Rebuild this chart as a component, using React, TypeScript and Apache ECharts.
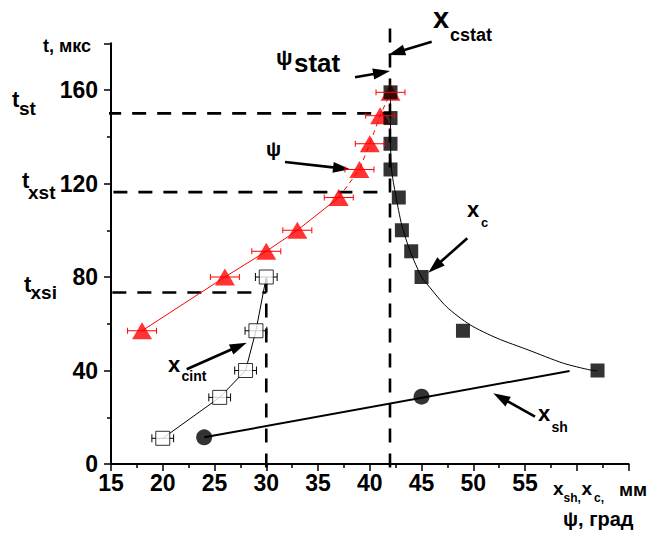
import React, { useEffect, useRef } from "react";
import * as echarts from "echarts";

// ---- data ----
const psiPts = [[18, 57], [26, 80], [30, 91], [33, 100], [37, 114], [39, 126], [40, 137], [41, 149], [42, 159]];
const psiErr = 1.4;
const xcPts = [[42, 159], [42, 148], [42, 137], [42, 126], [42.8, 114], [43.1, 100], [44, 91], [45, 80], [49, 57], [62, 40]];
const xcFit = [[42, 160], [42, 140], [42.1, 126], [42.5, 115], [43.1, 102], [43.9, 91], [45, 80], [45.6, 76.6], [47.4, 67.3], [49.7, 59.5], [52.3, 53.8], [55.3, 48.8], [58.7, 43.1], [61.3, 40.2], [62, 39.8]];
const xcintPts = [[20, 11], [25.5, 28.5], [28, 40], [29, 57], [30, 80]];
const xcintErr = 1.05;
const xshPts = [[24, 11.4], [45, 28.8]];
const xshFit = [[24, 11.4], [59.3, 39.8]];
const tSt = 150;
const tXst = 116.3;
const tXsi = 73.4;
const xStat = 41.95;
const xInt = 30;
const xMin = 15, xMax = 65, xStep = 5;
const yMin = 0, yMax = 180, yStep = 40;

const FONT = "'Liberation Sans', Arial, sans-serif";

function errRender(color: string, cap: number) {
  return (params: any, api: any) => {
    const x = api.value(0), y = api.value(1), e = api.value(2);
    const p1 = api.coord([x - e, y]);
    const p2 = api.coord([x + e, y]);
    const st = { stroke: color, lineWidth: 1 };
    return {
      type: "group",
      children: [
        { type: "line", shape: { x1: p1[0], y1: p1[1], x2: p2[0], y2: p2[1] }, style: st },
        { type: "line", shape: { x1: p1[0], y1: p1[1] - cap, x2: p1[0], y2: p1[1] + cap }, style: st },
        { type: "line", shape: { x1: p2[0], y1: p2[1] - cap, x2: p2[0], y2: p2[1] + cap }, style: st },
      ],
    };
  };
}

function arrow(x1: number, y1: number, x2: number, y2: number, hl = 17, hw = 5.5, lw = 2.6) {
  const dx = x2 - x1, dy = y2 - y1;
  const L = Math.hypot(dx, dy);
  const ux = dx / L, uy = dy / L;
  const bx = x2 - ux * hl, by = y2 - uy * hl;
  return [
    { type: "line", shape: { x1, y1, x2: bx + ux * 2, y2: by + uy * 2 }, style: { stroke: "#000", lineWidth: lw } },
    {
      type: "polygon",
      shape: { points: [[x2, y2], [bx - uy * hw, by + ux * hw], [bx + uy * hw, by - ux * hw]] },
      style: { fill: "#000" },
    },
  ];
}

function txt(s: string, x: number, y: number, size: number, weight = "bold") {
  return {
    type: "text",
    x,
    y,
    style: { text: s, fontSize: size, fontWeight: weight, fontFamily: FONT, fill: "#000", align: "left", verticalAlign: "middle" },
  };
}

const dashStyle = { color: "#000", width: 2.6, type: [14, 11] as any };

function refLine(data: number[][]) {
  return {
    type: "line",
    data,
    symbol: "none",
    clip: false,
    silent: true,
    lineStyle: dashStyle,
    z: 1,
  };
}

export default function App() {
  const ref = useRef<HTMLDivElement>(null);
  useEffect(() => {
    if (!ref.current) return;
    const chart = echarts.init(ref.current, null, { renderer: "svg" });
    const axisCommon = {
      axisLine: { show: true, onZero: false, lineStyle: { color: "#000", width: 2 } },
      axisTick: { show: true, length: 7, lineStyle: { color: "#000", width: 1.5 } },
      minorTick: { show: true, splitNumber: 2, length: 4, lineStyle: { color: "#000", width: 1.5 } },
      splitLine: { show: false },
      minorSplitLine: { show: false },
    };
    const graphic: any[] = [
      txt("t, мкс", 43, 45.5, 18),
      txt("t", 12, 99, 22), txt("st", 19, 108.5, 19),
      txt("t", 22, 180.5, 22), txt("xst", 28, 192.5, 19),
      txt("t", 24, 284, 22), txt("xsi", 30.5, 292.5, 19),
      txt("ψ", 276, 57, 22),
      txt("stat", 294, 63, 26),
      txt("x", 433, 18, 29),
      txt("cstat", 450, 34.5, 18),
      txt("ψ", 266, 149, 20),
      txt("x", 467, 209.5, 22), txt("c", 481, 222.5, 13),
      txt("x", 168, 364, 22), txt("cint", 181.5, 375.5, 14),
      txt("x", 538, 413, 22), txt("sh", 551.5, 426.5, 14),
      txt("x", 553, 488.5, 19), txt("sh,", 563.5, 497.5, 12),
      txt("x", 581.5, 488.5, 19), txt("c,", 594, 497.5, 12),
      txt("мм", 619, 489.5, 19),
      txt("ψ, град", 563, 519, 20),
      ...arrow(355, 77.3, 390, 71),
      ...arrow(431.7, 41.7, 388.3, 55),
      ...arrow(285, 162, 350, 169.3),
      ...arrow(467.3, 238.3, 428.3, 272.7),
      ...arrow(186.7, 369.3, 246.7, 342.7),
      ...arrow(535, 416.7, 493.3, 393.3),
    ];

    chart.setOption({
      animation: false,
      backgroundColor: "#fff",
      grid: { left: 111, top: 43.25, right: 28.4, bottom: 72, containLabel: false },
      xAxis: {
        type: "value",
        min: xMin,
        max: xMax,
        interval: xStep,
        ...axisCommon,
        axisLabel: {
          margin: 7,
          color: "#000",
          fontSize: 23,
          fontWeight: "bold",
          fontFamily: FONT,
          formatter: (v: number) => (v <= 55 ? String(v) : ""),
        },
      },
      yAxis: {
        type: "value",
        min: yMin,
        max: yMax,
        interval: yStep,
        ...axisCommon,
        axisLabel: {
          margin: 13,
          color: "#000",
          fontSize: 23,
          fontWeight: "bold",
          fontFamily: FONT,
          formatter: (v: number) => (v <= 160 ? String(v) : ""),
        },
      },
      graphic,
      series: [
        refLine([[9.8, tSt], [42, tSt]]),
        refLine([[10.4, tXst], [41.4, tXst]]),
        refLine([[10.3, tXsi], [xInt, tXsi]]),
        refLine([[xInt, -1.5], [xInt, 80]]),
        refLine([[xStat, -1.5], [xStat, 186.5]]),
        {
          type: "line",
          data: xcFit,
          symbol: "none",
          smooth: 0.25,
          lineStyle: { color: "#000", width: 1 },
          z: 2,
        },
        {
          type: "line",
          data: xshFit,
          symbol: "none",
          lineStyle: { color: "#000", width: 2 },
          z: 2,
        },
        {
          type: "line",
          data: xcintPts,
          symbol: "none",
          lineStyle: { color: "#000", width: 1 },
          z: 2,
        },
        {
          type: "line",
          data: psiPts.slice(0, 5),
          symbol: "none",
          lineStyle: { color: "#ff0000", width: 1 },
          z: 2,
        },
        {
          type: "line",
          data: psiPts.slice(4),
          symbol: "none",
          lineStyle: { color: "#ff0000", width: 1, type: [5, 4] },
          z: 2,
        },
        {
          type: "custom",
          renderItem: errRender("#000", 4),
          data: xcintPts.map((p) => [p[0], p[1], xcintErr]),
          z: 3,
        },
        {
          type: "scatter",
          data: xcintPts,
          symbol: "rect",
          symbolSize: 14,
          itemStyle: { color: "#fff", borderColor: "#000", borderWidth: 1 },
          z: 4,
        },
        {
          type: "scatter",
          data: psiPts,
          symbol: "triangle",
          symbolSize: [20, 17],
          itemStyle: { color: "#ff0000" },
          z: 4,
        },
        {
          type: "scatter",
          data: xcPts,
          symbol: "rect",
          symbolSize: 14,
          itemStyle: { color: "#000" },
          z: 5,
        },
        {
          type: "scatter",
          data: xshPts,
          symbol: "circle",
          symbolSize: 16,
          itemStyle: { color: "#000" },
          z: 5,
        },
        {
          type: "custom",
          renderItem: errRender("#ff0000", 3),
          data: psiPts.map((p) => [p[0], p[1], psiErr]),
          z: 6,
        },
      ],
    });
    return () => chart.dispose();
  }, []);
  return (
    <div
      ref={ref}
      style={{ position: "absolute", left: 0, top: 0, width: 657, height: 536, background: "#fff" }}
    />
  );
}
